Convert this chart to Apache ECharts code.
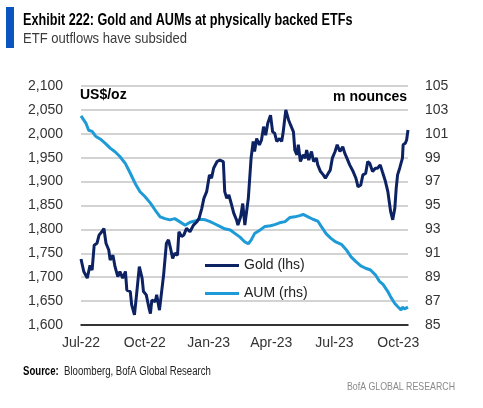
<!DOCTYPE html>
<html>
<head>
<meta charset="utf-8">
<script src="https://cdn.jsdelivr.net/npm/echarts@6/dist/echarts.min.js"></script>
<style>
html,body{margin:0;padding:0;background:#fff;}
#chart{width:483px;height:408px;}
</style>
</head>
<body>
<div id="chart"></div>
<script>
// ---- data ----
const goldDates = ['2022-07-13','2022-07-17','2022-07-22','2022-07-26','2022-07-29','2022-08-01','2022-08-05','2022-08-08','2022-08-12','2022-08-15','2022-08-18','2022-08-22','2022-08-24','2022-08-28','2022-08-31','2022-09-04','2022-09-07','2022-09-11','2022-09-15','2022-09-17','2022-09-22','2022-09-24','2022-09-28','2022-10-01','2022-10-05','2022-10-09','2022-10-11','2022-10-15','2022-10-19','2022-10-21','2022-10-23','2022-10-28','2022-10-30','2022-11-03','2022-11-05','2022-11-09','2022-11-13','2022-11-16','2022-11-19','2022-11-22','2022-11-25','2022-11-29','2022-12-01','2022-12-05','2022-12-08','2022-12-12','2022-12-17','2022-12-22','2022-12-27','2022-12-30','2023-01-03','2023-01-06','2023-01-10','2023-01-14','2023-01-17','2023-01-20','2023-01-25','2023-01-29','2023-01-31','2023-02-03','2023-02-05','2023-02-08','2023-02-11','2023-02-15','2023-02-18','2023-02-22','2023-02-24','2023-02-28','2023-03-03','2023-03-06','2023-03-08','2023-03-11','2023-03-13','2023-03-15','2023-03-18','2023-03-20','2023-03-23','2023-03-27','2023-03-30','2023-04-02','2023-04-05','2023-04-08','2023-04-12','2023-04-15','2023-04-18','2023-04-21','2023-04-25','2023-04-28','2023-04-30','2023-05-04','2023-05-08','2023-05-11','2023-05-15','2023-05-17','2023-05-20','2023-05-22','2023-05-25','2023-05-29','2023-06-01','2023-06-03','2023-06-06','2023-06-10','2023-06-13','2023-06-17','2023-06-19','2023-06-23','2023-06-27','2023-06-30','2023-07-04','2023-07-07','2023-07-10','2023-07-14','2023-07-17','2023-07-21','2023-07-25','2023-07-28','2023-07-31','2023-08-04','2023-08-09','2023-08-13','2023-08-16','2023-08-20','2023-08-23','2023-08-27','2023-08-30','2023-09-02','2023-09-06','2023-09-10','2023-09-13','2023-09-17','2023-09-20','2023-09-24','2023-09-28','2023-09-30','2023-10-02','2023-10-05','2023-10-08','2023-10-10','2023-10-12','2023-10-15','2023-10-17','2023-10-19','2023-10-20','2023-10-23','2023-10-25','2023-10-27'];
const goldValues = [1738,1712,1698,1725,1715,1767,1771,1788,1795,1802,1771,1757,1736,1746,1722,1701,1712,1698,1712,1673,1670,1642,1621,1663,1722,1698,1670,1663,1635,1624,1652,1649,1663,1631,1628,1705,1771,1778,1760,1739,1750,1746,1795,1785,1788,1802,1795,1809,1816,1823,1844,1865,1879,1914,1907,1928,1942,1945,1949,1942,1879,1865,1872,1851,1834,1820,1809,1827,1854,1809,1813,1865,1907,1949,1984,1963,1990,1977,1987,2015,1997,2022,2039,2004,2001,1984,1990,1984,2001,2050,2029,2018,2004,1966,1956,1977,1942,1956,1949,1966,1945,1963,1942,1949,1935,1921,1914,1907,1917,1924,1949,1963,1977,1963,1973,1959,1949,1935,1921,1907,1889,1893,1914,1917,1942,1938,1921,1928,1928,1935,1921,1903,1879,1858,1837,1820,1844,1886,1914,1928,1924,1949,1977,1980,1987,2008];

const aumDates = ['2022-07-13','2022-07-20','2022-07-24','2022-07-29','2022-08-03','2022-08-10','2022-08-17','2022-08-24','2022-08-31','2022-09-07','2022-09-15','2022-09-22','2022-09-29','2022-10-06','2022-10-13','2022-10-21','2022-10-28','2022-11-04','2022-11-11','2022-11-18','2022-11-25','2022-12-02','2022-12-10','2022-12-17','2022-12-24','2022-12-31','2023-01-08','2023-01-15','2023-01-22','2023-01-29','2023-02-05','2023-02-13','2023-02-20','2023-02-27','2023-03-06','2023-03-11','2023-03-15','2023-03-20','2023-03-28','2023-04-04','2023-04-12','2023-04-18','2023-04-25','2023-05-03','2023-05-10','2023-05-17','2023-05-24','2023-05-29','2023-06-05','2023-06-12','2023-06-19','2023-06-24','2023-07-01','2023-07-08','2023-07-15','2023-07-23','2023-07-30','2023-08-06','2023-08-13','2023-08-20','2023-08-27','2023-09-03','2023-09-10','2023-09-16','2023-09-21','2023-09-28','2023-10-02','2023-10-08','2023-10-12','2023-10-17','2023-10-19','2023-10-22','2023-10-27'];
const aumValues = [102.5,101.9,101.3,101.2,100.8,100.55,100.2,99.8,99.5,99.1,98.5,97.7,96.85,96.15,95.75,95.2,94.6,94.05,93.9,93.8,93.9,93.65,93.35,93.6,93.7,93.85,93.8,93.65,93.45,93.25,93.05,92.95,92.65,92.35,91.95,91.8,92.1,92.65,92.95,93.25,93.3,93.4,93.55,93.65,94.0,94.05,94.15,94.25,94.05,93.85,93.7,93.25,92.65,92.25,91.95,91.75,91.3,90.7,90.3,89.95,89.75,89.6,89.2,88.65,88.4,87.8,87.35,86.8,86.55,86.25,86.5,86.35,86.5];

const xTickDates = ['2022-07-13','2022-10-13','2023-01-13','2023-04-13','2023-07-13','2023-10-13'];
const xTickLabels = ['Jul-22','Oct-22','Jan-23','Apr-23','Jul-23','Oct-23'];
const xStart = '2022-07-13';
const xEnd = '2023-10-27';

const seriesNames = ['Gold (lhs)', 'AUM (rhs)'];
const titleText = 'Exhibit 222: Gold and AUMs at physically backed ETFs';
const subtitleText = 'ETF outflows have subsided';
const leftUnit = 'US$/oz';
const rightUnit = 'm nounces';
const sourceLabel = 'Source:';
const sourceText = 'Bloomberg, BofA Global Research';
const brandText = 'BofA GLOBAL RESEARCH';

// ---- chart ----
const pd = s => echarts.number.parseDate(s).getTime();
const tickTimes = xTickDates.map(pd);
const fmtThousands = v => v.toString().replace(/\B(?=(\d{3})+(?!\d))/g, ',');

const chart = echarts.init(document.getElementById('chart'), null, {renderer: 'canvas'});
const FONT = '"Liberation Sans", Arial, sans-serif';

chart.setOption({
  animation: false,
  backgroundColor: '#ffffff',
  grid: {left: 81, right: 75, top: 86, bottom: 83, containLabel: false},
  legend: {
    orient: 'vertical',
    left: 200, top: 252,
    itemWidth: 34, itemHeight: 3,
    itemGap: 11,
    icon: 'rect',
    textStyle: {fontFamily: FONT, fontSize: 14, color: '#222', lineHeight: 17},
    data: seriesNames
  },
  xAxis: {
    type: 'value',
    min: pd(xStart), max: pd(xEnd),
    axisLine: {show: true, onZero: false, lineStyle: {color: '#000', width: 1.5}},
    axisTick: {show: false},
    splitLine: {show: false},
    axisLabel: {
      customValues: tickTimes,
      fontFamily: FONT, fontSize: 14, color: '#333', margin: 11,
      formatter: v => { const i = tickTimes.indexOf(v); return i >= 0 ? xTickLabels[i] : ''; }
    }
  },
  yAxis: [{
    type: 'value', min: 1600, max: 2100, interval: 50,
    axisLine: {show: false}, axisTick: {show: false},
    splitLine: {show: true, lineStyle: {color: '#c4c4c4', width: 1.5}},
    axisLabel: {fontFamily: FONT, fontSize: 14, color: '#333', margin: 18, formatter: fmtThousands}
  }, {
    type: 'value', min: 85, max: 105, interval: 2,
    axisLine: {show: false}, axisTick: {show: false},
    splitLine: {show: false},
    axisLabel: {fontFamily: FONT, fontSize: 14, color: '#333', margin: 17}
  }],
  series: [{
    name: seriesNames[0], type: 'line', yAxisIndex: 0,
    data: goldDates.map((d, i) => [pd(d), goldValues[i]]),
    showSymbol: false, symbol: 'none',
    lineStyle: {color: '#0c2262', width: 3},
    itemStyle: {color: '#0c2262'},
    z: 3
  }, {
    name: seriesNames[1], type: 'line', yAxisIndex: 1,
    data: aumDates.map((d, i) => [pd(d), aumValues[i]]),
    showSymbol: false, symbol: 'none',
    lineStyle: {color: '#1e9bd7', width: 3},
    itemStyle: {color: '#1e9bd7'},
    z: 2
  }],
  graphic: [
    {type: 'rect', shape: {x: 6, y: 7, width: 8, height: 41}, style: {fill: '#0a55c0'}},
    {type: 'text', x: 23, y: 21, scaleX: 0.79,
      style: {text: titleText, fontFamily: FONT, fontSize: 16, fontWeight: 'bold', fill: '#000', verticalAlign: 'middle'}},
    {type: 'text', x: 23, y: 39, scaleX: 0.87,
      style: {text: subtitleText, fontFamily: FONT, fontSize: 15, fill: '#3a3a3a', verticalAlign: 'middle'}},
    {type: 'text', x: 80, y: 95,
      style: {text: leftUnit, fontFamily: FONT, fontSize: 14, fontWeight: 'bold', fill: '#000', verticalAlign: 'middle'}},
    {type: 'text', x: 407, y: 97,
      style: {text: rightUnit, fontFamily: FONT, fontSize: 14, fontWeight: 'bold', fill: '#000', align: 'right', verticalAlign: 'middle'}},
    {type: 'text', x: 23, y: 372, scaleX: 0.8,
      style: {
        rich: {b: {fontFamily: FONT, fontSize: 12, fontWeight: 'bold', fill: '#000'}, r: {fontFamily: FONT, fontSize: 12, fill: '#222'}},
        text: '{b|' + sourceLabel + '}{r|  ' + sourceText + '}', verticalAlign: 'middle'
      }},
    {type: 'text', x: 455, y: 387, scaleX: 0.8,
      style: {text: brandText, fontFamily: FONT, fontSize: 11, fill: '#8a8a8a', align: 'right', verticalAlign: 'middle'}}
  ]
});
</script>
</body>
</html>
